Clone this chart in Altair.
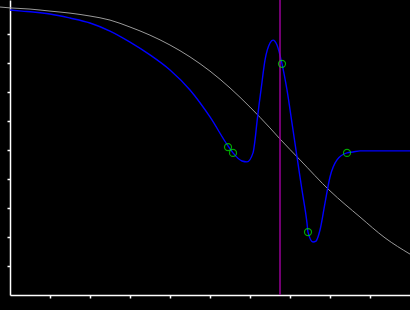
import altair as alt
import pandas as pd

# Reference (grey) curve
gray_x = [-0.25, 0, 0.5, 1, 1.5, 2, 2.5, 3, 3.5, 4, 4.5, 5, 5.5, 6, 6.5, 6.75, 7.25, 8, 8.75, 9.375, 10]
gray_y = [0.993, 0.990, 0.986, 0.979, 0.972, 0.962, 0.948, 0.924, 0.896, 0.862, 0.821, 0.772, 0.714,
          0.648, 0.576, 0.538, 0.466, 0.359, 0.269, 0.197, 0.141]

# Fitted (blue) curve
blue_x = [0, 0.3, 0.575, 1, 1.5, 2, 2.5, 3, 3.5, 4, 4.5, 5, 5.45, 5.575, 5.8, 5.925, 6.075, 6.125,
          6.175, 6.225, 6.275, 6.375, 6.5, 6.575, 6.675, 6.8, 6.925, 7.05, 7.175, 7.3, 7.425, 7.45,
          7.575, 7.65, 7.75, 7.875, 8, 8.175, 8.425, 8.575, 8.75, 10]
blue_y = [0.983, 0.979, 0.976, 0.969, 0.955, 0.938, 0.910, 0.872, 0.828, 0.776, 0.707, 0.614, 0.514,
          0.490, 0.462, 0.459, 0.490, 0.534, 0.597, 0.655, 0.707, 0.810, 0.869, 0.879, 0.862, 0.797,
          0.707, 0.593, 0.476, 0.362, 0.248, 0.217, 0.183, 0.186, 0.224, 0.317, 0.407, 0.466, 0.490,
          0.493, 0.497, 0.497]

# Marked points
pt_x = [5.45, 5.575, 6.8, 7.45, 8.425]
pt_y = [0.510, 0.490, 0.797, 0.217, 0.490]

# Vertical marker
vline_x = [6.75]

x_ticks = [1, 2, 3, 4, 5, 6, 7, 8, 9]
y_ticks = [0.1, 0.2, 0.3, 0.4, 0.5, 0.6, 0.7, 0.8, 0.9]

gray_df = pd.DataFrame({"x": gray_x, "y": gray_y})
blue_df = pd.DataFrame({"x": blue_x, "y": blue_y})
pt_df = pd.DataFrame({"x": pt_x, "y": pt_y})
vl_df = pd.DataFrame({"x": vline_x})

xscale = alt.Scale(domain=[0, 10], nice=False, zero=False)
yscale = alt.Scale(domain=[0, 295 / 290], nice=False, zero=False)

axis_common = dict(labels=False, title=None, grid=False, domainColor="white", tickColor="white",
                   domainWidth=1.5, tickWidth=1.5, tickSize=3, labelOverlap=False,
                   labelBound=False, labelFlush=False)

xaxis = alt.Axis(values=x_ticks, **axis_common)
yaxis = alt.Axis(values=y_ticks, tickCount=len(y_ticks), **axis_common)

gray = alt.Chart(gray_df).mark_line(color="#9a9a9a", strokeWidth=1, interpolate="monotone").encode(
    x=alt.X("x:Q", scale=xscale, axis=xaxis),
    y=alt.Y("y:Q", scale=yscale, axis=yaxis),
)

blue = alt.Chart(blue_df).mark_line(color="#0000ff", strokeWidth=1.4, interpolate="monotone").encode(
    x=alt.X("x:Q", scale=xscale),
    y=alt.Y("y:Q", scale=yscale),
)

vline = alt.Chart(vl_df).mark_rule(color="#990099", strokeWidth=1.5).encode(
    x=alt.X("x:Q", scale=xscale),
)

pts = alt.Chart(pt_df).mark_point(shape="circle", color="#00ee00", size=50, strokeWidth=1.2, filled=False).encode(
    x=alt.X("x:Q", scale=xscale),
    y=alt.Y("y:Q", scale=yscale),
)

chart = alt.layer(gray, blue, vline, pts).properties(
    width=400, height=295,
    background="black",
    padding={"left": 10, "top": 0, "right": 0, "bottom": 15},
    autosize=alt.AutoSizeParams(type="none"),
).configure_view(stroke=None)

chart.save("out.html", embed_options={"renderer": "svg", "actions": False})
